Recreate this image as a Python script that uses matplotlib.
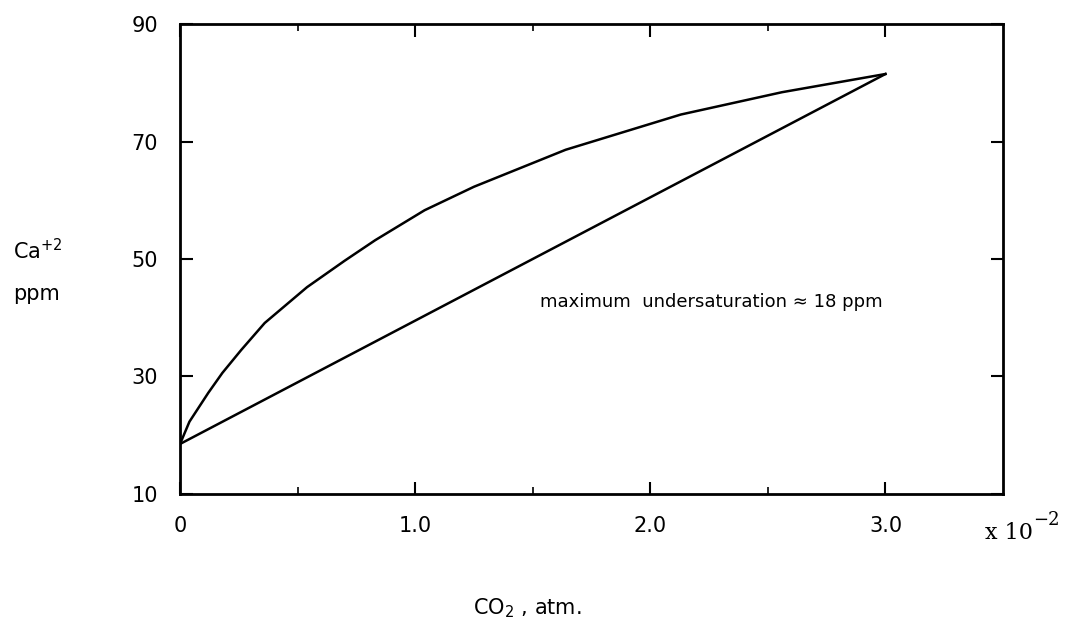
import matplotlib
matplotlib.use('Agg')
import matplotlib.pyplot as plt

# CO2 (x 10^-2 atm) vs Ca+2 (ppm)
co2_curve = [0, 0.04, 0.12, 0.18, 0.26, 0.36, 0.54, 0.7, 0.83, 1.04, 1.25, 1.64, 2.13, 2.56, 3.0]
ca_curve = [18.5, 22.3, 27.2, 30.6, 34.5, 39.1, 45.2, 49.7, 53.2, 58.3, 62.3, 68.6, 74.6, 78.4, 81.5]
co2_line = [0, 3.0]
ca_line = [18.5, 81.5]

x_ticks = [0, 1.0, 2.0, 3.0]
x_ticklabels = ['0', '1.0', '2.0', '3.0']
x_minor = [0.5, 1.5, 2.5]
y_ticks = [10, 30, 50, 70, 90]
note = 'maximum  undersaturation \u2248 18 ppm'

fig = plt.figure(figsize=(10.82, 6.34), dpi=100)
ax = fig.add_axes([0.1664, 0.221, 0.7606, 0.741])

ax.plot(co2_curve, ca_curve, color='black', lw=1.8)
ax.plot(co2_line, ca_line, color='black', lw=1.8)

ax.set_xlim(0, 3.5)
ax.set_ylim(10, 90)
ax.set_xticks(x_ticks)
ax.set_xticklabels(x_ticklabels)
ax.set_xticks(x_minor, minor=True)
ax.set_yticks(y_ticks)

for s in ax.spines.values():
    s.set_linewidth(2)

ax.tick_params(axis='both', which='major', direction='in', length=9, width=1.5,
               top=True, right=True, labelsize=15)
ax.tick_params(axis='both', which='minor', direction='in', length=5, width=1.2,
               top=True, right=True)
ax.tick_params(axis='x', which='major', pad=16)
ax.tick_params(axis='y', which='major', pad=16)

ax.text(1.53, 42.6, note, fontsize=13, va='center', ha='left')

fig.text(0.012, 0.605, 'Ca$^{+2}$', fontsize=15, va='center', ha='left')
fig.text(0.012, 0.537, 'ppm', fontsize=15, va='center', ha='left')

fig.text(0.91, 0.16, 'x 10', fontsize=16, family='DejaVu Serif', va='center', ha='left')
fig.text(0.955, 0.18, '\u22122', fontsize=13, family='DejaVu Serif', va='center', ha='left')

fig.text(0.437, 0.04, 'CO$_2$ , atm.', fontsize=15, va='center', ha='left')

fig.savefig('out.png', dpi=100)
